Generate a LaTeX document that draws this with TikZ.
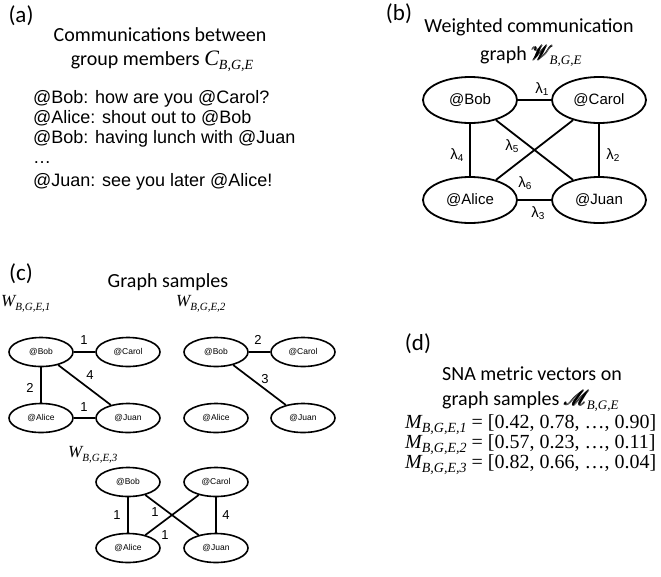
\documentclass[tikz,border=0pt]{standalone}
\usepackage{fontspec}
\usepackage{amsbsy}
\usepackage{mathrsfs}
\setmainfont{Carlito}
\newfontfamily\arial{Liberation Sans}
\newfontfamily\tms{Liberation Serif}
\usetikzlibrary{shapes.geometric}
\begin{document}
\begin{tikzpicture}[x=1pt,y=-1pt,
 panel/.style={font=\fontsize{23}{23}\selectfont, inner sep=0},
 ttl/.style={font=\fontsize{20}{24}\selectfont, inner sep=0, anchor=base},
 msg/.style={font=\arial\fontsize{18}{20}\selectfont, anchor=base west, inner sep=0},
 bnode/.style={ellipse, draw, line width=1.8pt, minimum width=94pt, minimum height=46pt, inner sep=0, font=\arial\fontsize{15}{15}\selectfont},
 snode/.style={ellipse, draw, line width=1.6pt, minimum width=64pt, minimum height=29pt, inner sep=0, font=\arial\fontsize{8.5}{8.5}\selectfont},
 bedge/.style={line width=1.8pt},
 sedge/.style={line width=1.7pt},
 lam/.style={font=\arial\fontsize{15}{15}\selectfont, inner sep=0},
 wt/.style={font=\arial\fontsize{13}{13}\selectfont, inner sep=0},
 wlab/.style={anchor=base west, inner sep=0, font=\tms\itshape\fontsize{17}{17}\selectfont},
 eq/.style={anchor=base west, inner sep=0, font=\tms\fontsize{20}{20}\selectfont},
]
\useasboundingbox[fill=white] (0,0) rectangle (661,576);

% ---------- (a)
\node[panel] (pa) at (21,16) {(a)};
\node[ttl] (ta1) at (160,41) {Communications between};
\node[ttl] (ta2) at (162,65) {group members {\tms\itshape\fontsize{22}{22}\selectfont C\raisebox{-4pt}{\fontsize{14}{14}\selectfont B,G,E}}};
\node[msg] (m1) at (33,103) {@Bob: how are you @Carol?};
\node[msg] (m2) at (33,123) {@Alice: shout out to @Bob};
\node[msg] (m3) at (33,143) {@Bob: having lunch with @Juan};
\node[msg] (m4) at (33,163) {…};
\node[msg] (m5) at (33,186) {@Juan: see you later @Alice!};

% ---------- (b)
\node[panel] (pb) at (399,14) {(b)};
\node[ttl] (tb1) at (529,32) {Weighted communication};
\node[ttl, anchor=base west] (tb2) at (480,60) {graph {\fontsize{21}{21}\selectfont$\pmb{\mathscr{W}}$}\kern-4pt{\tms\itshape\raisebox{-4pt}{\fontsize{13}{13}\selectfont B,G,E}}};
\node[bnode] (bB) at (470,100) {@Bob};
\node[bnode] (bC) at (599,100) {@Carol};
\node[bnode] (bA) at (470,200) {@Alice};
\node[bnode] (bJ) at (599,200) {@Juan};
\draw[bedge] (bB) -- (bC);
\draw[bedge] (bC) -- (bJ);
\draw[bedge] (bA) -- (bJ);
\draw[bedge] (bB) -- (bA);
\draw[bedge] (bB) -- (bJ);
\draw[bedge] (bC) -- (bA);
\node[lam] (l1) at (542,89) {λ\raisebox{-2pt}{\fontsize{10}{10}\selectfont 1}};
\node[lam] (l2) at (613,155) {λ\raisebox{-2pt}{\fontsize{10}{10}\selectfont 2}};
\node[lam] (l3) at (538,213) {λ\raisebox{-2pt}{\fontsize{10}{10}\selectfont 3}};
\node[lam] (l4) at (457,155) {λ\raisebox{-2pt}{\fontsize{10}{10}\selectfont 4}};
\node[lam] (l5) at (512,146) {λ\raisebox{-2pt}{\fontsize{10}{10}\selectfont 5}};
\node[lam] (l6) at (525,183) {λ\raisebox{-2pt}{\fontsize{10}{10}\selectfont 6}};

% ---------- (c)
\node[panel] (pc) at (21,274) {(c)};
\node[ttl] (tc) at (168,287) {Graph samples};

\node[wlab] (w1) at (1,306) {W\raisebox{-4pt}{\fontsize{11}{11}\selectfont B,G,E,1}};
\node[snode] (c1B) at (41,352) {@Bob};
\node[snode] (c1C) at (128,352) {@Carol};
\node[snode] (c1A) at (41,418) {@Alice};
\node[snode] (c1J) at (128,418) {@Juan};
\draw[sedge] (c1B) -- (c1C);
\draw[sedge] (c1B) -- (c1A);
\draw[sedge] (c1A) -- (c1J);
\draw[sedge] (c1B) -- (c1J);
\node[wt] (n11) at (84,340) {1};
\node[wt] (n12) at (30,388) {2};
\node[wt] (n13) at (84,407) {1};
\node[wt] (n14) at (90,375) {4};

\node[wlab] (w2) at (176,306) {W\raisebox{-4pt}{\fontsize{11}{11}\selectfont B,G,E,2}};
\node[snode] (c2B) at (216,352) {@Bob};
\node[snode] (c2C) at (303,352) {@Carol};
\node[snode] (c2A) at (216,418) {@Alice};
\node[snode] (c2J) at (303,418) {@Juan};
\draw[sedge] (c2B) -- (c2C);
\draw[sedge] (c2B) -- (c2J);
\node[wt] (n21) at (258,340) {2};
\node[wt] (n22) at (265,379) {3};

\node[wlab] (w3) at (68,457) {W\raisebox{-4pt}{\fontsize{11}{11}\selectfont B,G,E,3}};
\node[snode] (c3B) at (128,482) {@Bob};
\node[snode] (c3C) at (216,482) {@Carol};
\node[snode] (c3A) at (128,548) {@Alice};
\node[snode] (c3J) at (216,548) {@Juan};
\draw[sedge] (c3B) -- (c3A);
\draw[sedge] (c3C) -- (c3J);
\draw[sedge] (c3B) -- (c3J);
\draw[sedge] (c3C) -- (c3A);
\node[wt] (n31) at (117,515) {1};
\node[wt] (n32) at (155,512) {1};
\node[wt] (n33) at (165,535) {1};
\node[wt] (n34) at (226,515) {4};

% ---------- (d)
\node[panel] (pd) at (418,344) {(d)};
\node[ttl, anchor=base west] (td1) at (442,380) {SNA metric vectors on};
\node[ttl, anchor=base west] (td2) at (442,405) {graph samples {\fontsize{21}{21}\selectfont$\pmb{\mathscr{M}}$}\kern-3pt{\tms\itshape\raisebox{-4pt}{\fontsize{13}{13}\selectfont B,G,E}}};
\node[eq] (e1) at (405,428) {\itshape M\raisebox{-4.5pt}{\fontsize{14}{14}\selectfont B,G,E,1}\upshape\ = [0.42, 0.78, …, 0.90]};
\node[eq] (e2) at (405,448) {\itshape M\raisebox{-4.5pt}{\fontsize{14}{14}\selectfont B,G,E,2}\upshape\ = [0.57, 0.23, …, 0.11]};
\node[eq] (e3) at (405,468) {\itshape M\raisebox{-4.5pt}{\fontsize{14}{14}\selectfont B,G,E,3}\upshape\ = [0.82, 0.66, …, 0.04]};
\end{tikzpicture}
\end{document}
